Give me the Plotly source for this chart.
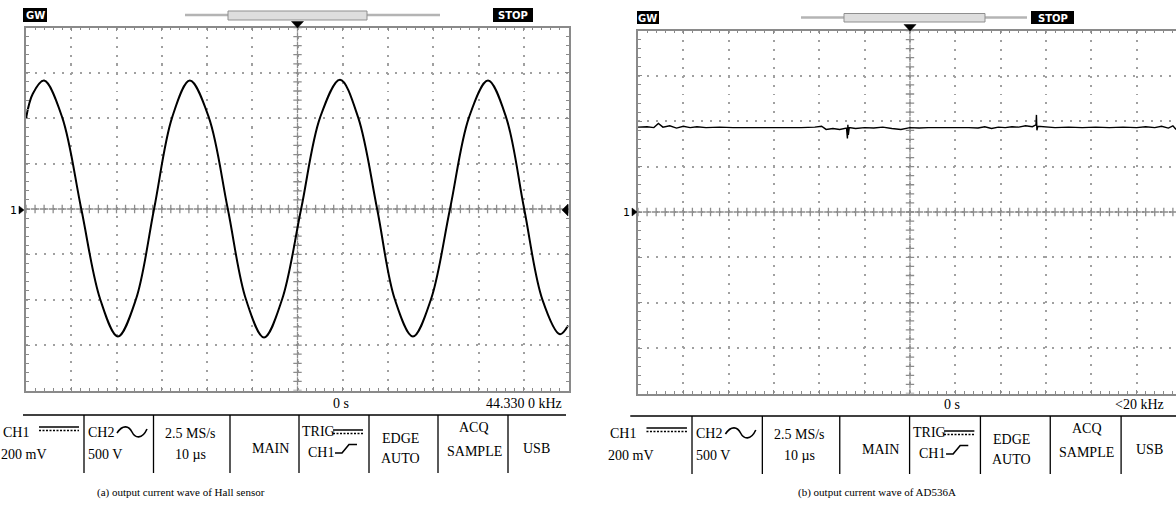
import numpy as np
import plotly.graph_objects as go

W, H = 1176, 512

# ---------------- data (screen divisions) ----------------
# (a) Hall sensor output: x = time divisions from trigger, y = vertical divisions from CH1 ground
HALL_T = [-6.00, -5.85, -5.60, -5.20, -4.78, -4.36, -3.97, -3.57, -3.17, -2.77, -2.38,
          -1.96, -1.54, -1.14, -0.74, -0.34, 0.08, 0.50, 0.94, 1.34, 1.76, 2.15, 2.55,
          2.95, 3.37, 3.79, 4.21, 4.61, 5.01, 5.41, 5.80, 5.98]
HALL_V = [1.99, 2.54, 2.83, 2.02, 0.01, -1.99, -2.81, -1.99, 0.00, 2.02, 2.83,
          2.02, 0.00, -1.99, -2.83, -1.99, 0.00, 2.02, 2.85, 2.02, 0.00, -1.99, -2.81,
          -1.99, 0.00, 2.02, 2.83, 2.02, 0.00, -1.99, -2.76, -2.57]

# (b) AD536A output
AD_T = [-6.00, -5.80, -5.65, -5.55, -5.45, -5.30, -5.15, -5.00, -4.85, -4.70, -4.50, -4.20,
        -3.90, -3.60, -3.30, -3.00, -2.70, -2.40, -2.10, -1.95, -1.85, -1.70, -1.55, -1.40,
        -1.38, -1.37, -1.36, -1.34, -1.20, -1.00, -0.80, -0.60, -0.40, -0.20, 0.00, 0.20,
        0.40, 0.70, 1.00, 1.30, 1.50, 1.65, 1.80, 1.95, 2.10, 2.25, 2.40, 2.55, 2.70, 2.78,
        2.79, 2.80, 2.82, 2.95, 3.20, 3.50, 3.80, 4.10, 4.40, 4.70, 5.00, 5.20, 5.40, 5.55,
        5.70, 5.80, 5.87]
AD_V = [1.87, 1.88, 1.86, 1.95, 1.87, 1.90, 1.85, 1.89, 1.86, 1.88, 1.86, 1.87,
        1.86, 1.86, 1.85, 1.86, 1.85, 1.86, 1.87, 1.89, 1.82, 1.84, 1.82, 1.85,
        1.62, 1.92, 1.70, 1.86, 1.84, 1.86, 1.85, 1.87, 1.84, 1.82, 1.86, 1.85,
        1.86, 1.86, 1.87, 1.86, 1.85, 1.88, 1.84, 1.87, 1.86, 1.88, 1.87, 1.90, 1.88, 1.92,
        2.14, 1.80, 1.89, 1.88, 1.86, 1.87, 1.86, 1.87, 1.86, 1.87, 1.86, 1.88, 1.86, 1.89,
        1.85, 1.90, 1.82]

# status / readout texts
STATUS = ["GW", "STOP"]
CH1_INFO = ["CH1", "200 mV"]
CH2_INFO = ["CH2", "500 V"]
TIME_INFO = ["2.5 MS/s", "10 µs"]
MODE_INFO = ["MAIN"]
TRIG_INFO = ["TRIG", "CH1"]
EDGE_INFO = ["EDGE", "AUTO"]
ACQ_INFO = ["ACQ", "SAMPLE"]
IO_INFO = ["USB"]
TIME_POS = "0 s"
FREQ = ["44.330 0 kHz", "<20 kHz"]
CAPTIONS = ["(a) output current wave of Hall sensor", "(b) output current wave of AD536A"]

# ---------------- styling / layout ----------------
SERIF = "Liberation Serif"
SANS = "DejaVu Sans"
FRAME = "#8a8a8a"
GRID = "#a0a0a0"
DIV_PX = 45.33


def px(x):
    return x / W


def py(y):
    return 1 - y / H


def P(x, y):
    return f"{px(x):.6f},{py(y):.6f}"


shapes = []
annotations = []


def hline(x0, y0, x1, y1, color="black", width=1.0, dash=None):
    ln = dict(color=color, width=width)
    if dash:
        ln["dash"] = dash
    shapes.append(dict(type="line", xref="paper", yref="paper", x0=px(x0), y0=py(y0),
                       x1=px(x1), y1=py(y1), line=ln, layer="above"))


def rect(x0, y0, x1, y1, fill, color=None, width=0):
    shapes.append(dict(type="rect", xref="paper", yref="paper", x0=px(x0), y0=py(y0),
                       x1=px(x1), y1=py(y1), fillcolor=fill,
                       line=dict(color=color or fill, width=width), layer="above"))


def path(d, color="black", width=1.5, fill=None):
    s = dict(type="path", xref="paper", yref="paper", path=d,
             line=dict(color=color, width=width), layer="above")
    if fill:
        s["fillcolor"] = fill
    shapes.append(s)


def tri(pts, color="black"):
    d = "M" + " L".join(P(a, b) for a, b in pts) + " Z"
    path(d, color=color, width=0.5, fill=color)


def text(x, y, s, size=14, anchor="left", color="black", family=SERIF, bold=False):
    annotations.append(dict(xref="paper", yref="paper", x=px(x), y=py(y),
                            text=(f"<b>{s}</b>" if bold else s),
                            showarrow=False, xanchor=anchor, yanchor="middle", borderpad=0,
                            font=dict(family=family, size=size, color=color)))


fig = go.Figure()

scopes = [
    dict(x0=26, x1=569, top=27.5, bottom=390.5, xa="x", ya="y", full=True),
    dict(x0=638, x1=1176, top=30.5, bottom=393.5, xa="x2", ya="y2", full=False),
]

for i, sc in enumerate(scopes):
    xmax = 6 if sc["full"] else -6 + (sc["x1"] - sc["x0"]) / DIV_PX
    axis_common = dict(
        dtick=1, tick0=0, showgrid=True, gridcolor=GRID, gridwidth=1.5, griddash="2px,7px",
        showline=True, linecolor=FRAME, linewidth=1.5, ticks="inside", ticklen=4,
        tickcolor=FRAME, tickwidth=1,
        minor=dict(ticks="inside", ticklen=3, dtick=0.2, tick0=0, tickcolor=FRAME, tickwidth=1),
        showticklabels=False, zeroline=False, fixedrange=True,
    )
    xname = "xaxis" if i == 0 else "xaxis2"
    yname = "yaxis" if i == 0 else "yaxis2"
    fig.update_layout({
        xname: dict(axis_common, domain=[px(sc["x0"]), px(sc["x1"])], range=[-6, xmax],
                    mirror="allticks", anchor=sc["ya"]),
        yname: dict(axis_common, domain=[py(sc["bottom"]), py(sc["top"])], range=[-4, 4],
                    mirror=("allticks" if sc["full"] else False), anchor=sc["xa"]),
    })
    # center crosshair of the graticule
    cx = np.arange(-6, xmax + 1e-9, 0.2)
    cy = np.arange(-4, 4 + 1e-9, 0.2)
    fig.add_trace(go.Scatter(x=np.concatenate([cx, np.zeros_like(cy)]),
                             y=np.concatenate([np.zeros_like(cx), cy]),
                             xaxis=sc["xa"], yaxis=sc["ya"], mode="markers", hoverinfo="skip",
                             marker=dict(symbol="cross-thin", size=6,
                                         line=dict(color="#8c8c8c", width=1.3)),
                             showlegend=False))

# waveforms
fig.add_trace(go.Scatter(x=HALL_T, y=HALL_V, xaxis="x", yaxis="y", mode="lines",
                         line=dict(color="black", width=2, shape="spline", smoothing=1.0),
                         showlegend=False, hoverinfo="skip"))
fig.add_trace(go.Scatter(x=AD_T, y=AD_V, xaxis="x2", yaxis="y2", mode="lines",
                         line=dict(color="black", width=1.4),
                         showlegend=False, hoverinfo="skip"))

# ---------------- headers ----------------
headers = [
    dict(gw=(23, 47, 8, 22), line=(185, 440, 15), box=(228, 367, 11, 20), stop=(493, 533, 8, 22),
         cx=297.5, top=27.5, one=(13, 210), tri_l=568),
    dict(gw=(637, 659, 11, 24), line=(801, 1027, 17.5), box=(844, 985, 13.5, 22), stop=(1031, 1074, 11, 24),
         cx=910, top=30.5, one=(626, 212), tri_l=None),
]
for h in headers:
    g = h["gw"]
    rect(g[0], g[2], g[1], g[3], "black")
    text((g[0] + g[1]) / 2, (g[2] + g[3]) / 2 + 0.5, STATUS[0], size=10, anchor="center",
         color="white", family=SANS, bold=True)
    s = h["stop"]
    rect(s[0], s[2], s[1], s[3], "black")
    text((s[0] + s[1]) / 2, (s[2] + s[3]) / 2 + 0.5, STATUS[1], size=10, anchor="center",
         color="white", family=SANS, bold=True)
    l = h["line"]
    hline(l[0], l[2], l[1], l[2], color="#b4b4b4", width=2.5)
    b = h["box"]
    rect(b[0], b[2], b[1], b[3], "#dedede", color="#8f8f8f", width=1)
    c = h["cx"]
    tri([(c - 6, h["top"] - 6), (c + 6, h["top"] - 6), (c, h["top"] + 0.5)])
    ox, oy = h["one"]
    text(ox, oy, "1", size=11, anchor="center", family=SANS)
    tri([(ox + 6, oy - 4), (ox + 11, oy), (ox + 6, oy + 4)])
    if h["tri_l"]:
        t = h["tri_l"]
        tri([(t, oy - 6), (t - 6, oy), (t, oy + 6)])

# ---------------- readout tables ----------------
tables = [dict(dx=0, sx=1.0, dy=0, freq_x=563, line_end=566),
          dict(dx=607, sx=1.012, dy=1, freq_x=1165, line_end=1176)]
SEPS = [84, 153.5, 230, 299, 369, 438, 508]
for k, t in enumerate(tables):
    def T(x):
        return t["dx"] + t["sx"] * x
    dy = t["dy"]
    text(T(341), 403 + dy, TIME_POS, size=14, anchor="center")
    text(t["freq_x"], 403 + dy, FREQ[k], size=14, anchor="right")
    hline(T(23), 415 + dy, t["line_end"], 415 + dy, width=1.6)
    for s in SEPS:
        hline(T(s), 415 + dy, T(s), 473 + dy, width=1.3)
    # CH1
    text(T(2), 432 + dy, CH1_INFO[0], anchor="left")
    text(T(0), 454 + dy, CH1_INFO[1], anchor="left")
    hline(T(39), 427 + dy, T(79), 427 + dy, width=1.5)
    hline(T(39), 430.5 + dy, T(79), 430.5 + dy, width=1.5, dash="2px,1.5px")
    # CH2
    text(T(86.5), 432 + dy, CH2_INFO[0], anchor="left")
    text(T(86.5), 454 + dy, CH2_INFO[1], anchor="left")
    path("M" + P(T(117), 433 + dy) + " C" + P(T(123), 424 + dy) + " " + P(T(129), 426 + dy) + " "
         + P(T(132), 432 + dy) + " C" + P(T(135), 438 + dy) + " " + P(T(142), 440 + dy) + " "
         + P(T(147), 429 + dy), width=1.6)
    # timebase
    text(T(190), 433 + dy, TIME_INFO[0], anchor="center")
    text(T(190), 454 + dy, TIME_INFO[1], anchor="center")
    # mode
    text(T(270), 448 + dy, MODE_INFO[0], anchor="center")
    # trigger
    text(T(301), 431 + dy, TRIG_INFO[0], anchor="left")
    hline(T(333), 430 + dy, T(363), 430 + dy, width=1.5)
    hline(T(333), 433.5 + dy, T(363), 433.5 + dy, width=1.5, dash="2px,1.5px")
    text(T(307), 452 + dy, TRIG_INFO[1], anchor="left")
    path("M" + P(T(335), 453 + dy) + " L" + P(T(342), 453 + dy) + " L" + P(T(349), 444.5 + dy)
         + " L" + P(T(357), 444.5 + dy), width=1.6)
    # edge / auto
    text(T(400), 438.5 + dy, EDGE_INFO[0], anchor="center")
    text(T(400), 458 + dy, EDGE_INFO[1], anchor="center")
    # acq
    text(T(474), 427.5 + dy, ACQ_INFO[0], anchor="center")
    text(T(474), 451.5 + dy, ACQ_INFO[1], anchor="center")
    # usb
    text(T(536), 448 + dy, IO_INFO[0], anchor="center")

# captions
text(181, 492, CAPTIONS[0], size=11, anchor="center")
text(877, 492, CAPTIONS[1], size=11, anchor="center")

fig.update_layout(
    width=W, height=H, margin=dict(l=0, r=0, t=0, b=0), autosize=False,
    paper_bgcolor="white", plot_bgcolor="white", showlegend=False,
    shapes=shapes, annotations=annotations,
)

fig.write_html(
    "out.html",
    config={"displayModeBar": False},
    post_script="document.body.style.margin='0';document.documentElement.style.overflow='hidden';",
)
